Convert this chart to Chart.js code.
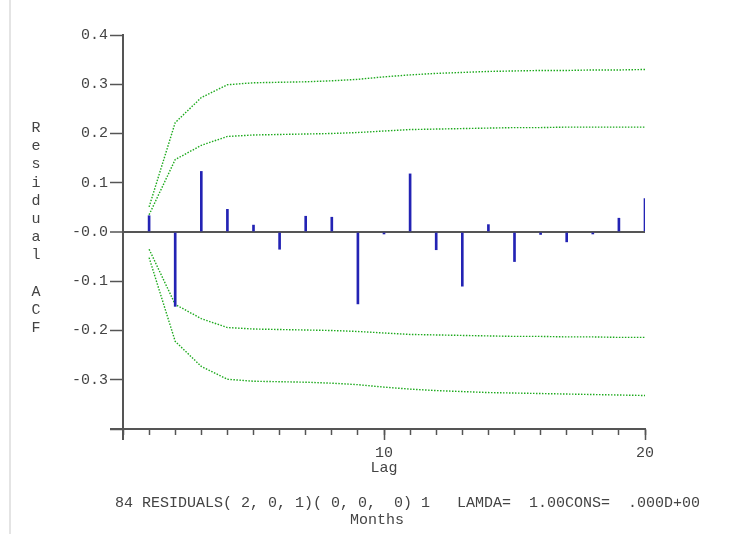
<!DOCTYPE html>
<html>
<head>
<meta charset="utf-8">
<script src="https://cdn.jsdelivr.net/npm/chart.js@4.4.1/dist/chart.umd.min.js"></script>
<style>
html,body{margin:0;padding:0;background:#fff;}
#wrap{position:relative;width:748px;height:534px;}
#edge{position:absolute;left:9px;top:0;width:2px;height:534px;background:#e4e4e4;}
</style>
</head>
<body>
<div id="wrap"><canvas id="acfChart"></canvas><div id="edge"></div></div>
<script>
// residual autocorrelations by lag
const lags = [1,2,3,4,5,6,7,8,9,10,11,12,13,14,15,16,17,18,19,20];
const acf = [0.033,-0.151,0.123,0.046,0.014,-0.035,0.032,0.030,-0.146,-0.004,
             0.118,-0.036,-0.110,0.015,-0.060,-0.005,-0.020,-0.004,0.028,0.068];

// confidence limits (green dotted)
const upperOuter = [0.051,0.222,0.273,0.299,0.303,0.304,0.305,0.307,0.310,0.315,
                    0.319,0.322,0.324,0.326,0.327,0.328,0.328,0.329,0.329,0.330];
const upperInner = [0.035,0.147,0.176,0.194,0.197,0.198,0.199,0.200,0.202,0.205,
                    0.208,0.209,0.210,0.211,0.212,0.212,0.213,0.213,0.213,0.213];
const lowerInner = [-0.035,-0.147,-0.176,-0.194,-0.197,-0.198,-0.199,-0.200,-0.202,-0.205,
                    -0.208,-0.209,-0.210,-0.211,-0.212,-0.212,-0.213,-0.213,-0.214,-0.214];
const lowerOuter = [-0.052,-0.222,-0.273,-0.299,-0.303,-0.304,-0.305,-0.307,-0.310,-0.315,
                    -0.319,-0.322,-0.324,-0.326,-0.327,-0.328,-0.329,-0.330,-0.331,-0.332];

const xLabelTicks = [10,20];
const yTitle = "Residual ACF";
const footLines = ["84 RESIDUALS( 2, 0, 1)( 0, 0,  0) 1   LAMDA=  1.00CONS=  .000D+00", "Months"];

const FONT = "Liberation Mono";
const TXT = "#444";
const AXIS = "#555";
const GREEN = "rgb(30,170,30)";

function pts(arr){
  return lags.map((l,i)=>({x:l,y:arr[i]}));
}

function bandSet(arr){
  return {
    type:"line",
    data:pts(arr),
    borderColor:GREEN,
    borderWidth:1.4,
    borderDash:[1.5,1.5],
    pointRadius:0,
    tension:0,
    fill:false
  };
}

const axisExtras = {
  id:"axisExtras",
  afterDraw(chart){
    const {ctx,scales:{x,y}} = chart;
    const x0 = x.getPixelForValue(0);
    const yb = y.getPixelForValue(-0.4);
    ctx.save();
    ctx.strokeStyle = AXIS;
    ctx.lineWidth = 2;
    ctx.beginPath();
    ctx.moveTo(x0-13,yb); ctx.lineTo(x0,yb);
    ctx.moveTo(x0,yb); ctx.lineTo(x0,yb+11);
    ctx.stroke();
    ctx.lineWidth = 1.5;
    ctx.beginPath();
    xLabelTicks.forEach(v=>{
      const px = Math.round(x.getPixelForValue(v))+0.5;
      ctx.moveTo(px,yb); ctx.lineTo(px,yb+11);
    });
    ctx.stroke();

    ctx.fillStyle = TXT;
    ctx.font = "15px \"" + FONT + "\"";
    ctx.textAlign = "center";
    ctx.textBaseline = "middle";
    yTitle.split("").forEach((c,i)=>{
      ctx.fillText(c,36,128+i*18.2);
    });
    ctx.textAlign = "left";
    ctx.fillText(footLines[0],115,503);
    ctx.fillText(footLines[1],350,520);
    ctx.restore();
  }
};

new Chart(document.getElementById("acfChart"),{
  type:"line",
  data:{
    datasets:[
      {
        type:"bar",
        data:pts(acf),
        backgroundColor:"rgb(35,35,180)",
        borderWidth:0,
        barThickness:2,
        grouped:false
      },
      bandSet(upperOuter),
      bandSet(upperInner),
      bandSet(lowerInner),
      bandSet(lowerOuter)
    ]
  },
  options:{
    responsive:true,
    maintainAspectRatio:false,
    animation:false,
    layout:{padding:{left:0,top:35,right:103,bottom:55}},
    plugins:{legend:{display:false},tooltip:{enabled:false}},
    scales:{
      x:{
        type:"linear",
        min:0,
        max:20,
        offset:false,
        afterFit:(s)=>{s.height=50;},
        grid:{drawOnChartArea:false,offset:false,tickLength:6,tickColor:AXIS,tickWidth:1.5},
        border:{display:true,color:AXIS,width:2},
        ticks:{
          stepSize:1,
          autoSkip:false,
          maxRotation:0,
          padding:9,
          color:TXT,
          font:{family:FONT,size:15},
          callback:(v)=>xLabelTicks.includes(v)?String(v):""
        },
        title:{display:true,text:"Lag",color:TXT,font:{family:FONT,size:15},padding:{top:0,bottom:2}}
      },
      y:{
        min:-0.4,
        max:0.4,
        afterFit:(s)=>{s.width=123;},
        grid:{
          drawOnChartArea:true,
          tickLength:13,
          tickColor:AXIS,
          tickWidth:1.5,
          color:(c)=>Math.abs(c.tick.value)<1e-9?AXIS:"rgba(0,0,0,0)",
          lineWidth:(c)=>Math.abs(c.tick.value)<1e-9?2:1
        },
        border:{display:true,color:AXIS,width:2},
        ticks:{
          stepSize:0.1,
          autoSkip:false,
          padding:2,
          color:TXT,
          font:{family:FONT,size:15},
          callback:(v)=>{
            if(Math.abs(v+0.4)<1e-9) return "";
            if(Math.abs(v)<1e-9) return "-0.0";
            return v.toFixed(1);
          }
        }
      }
    }
  },
  plugins:[axisExtras]
});
</script>
</body>
</html>
